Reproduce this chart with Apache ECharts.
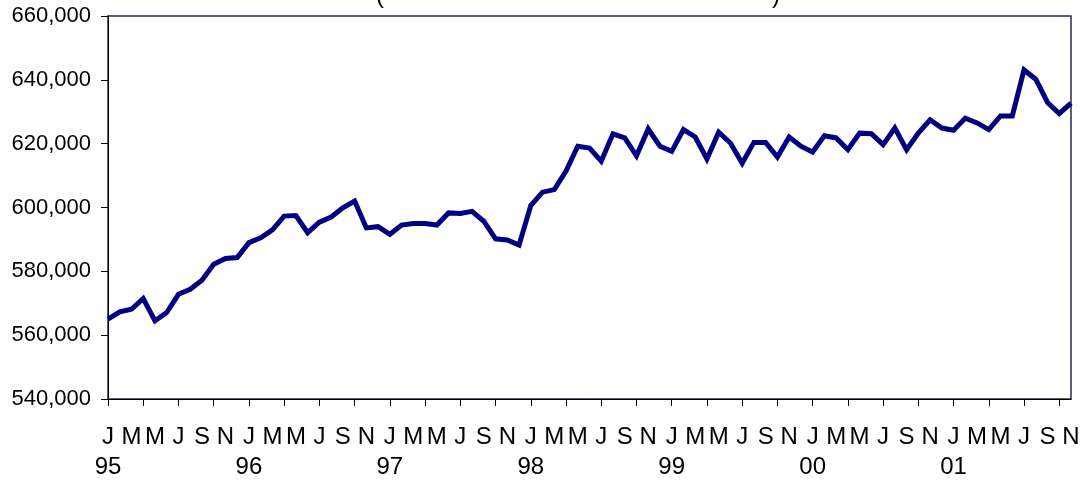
<!DOCTYPE html>
<html>
<head>
<meta charset="utf-8">
<script src="https://cdn.jsdelivr.net/npm/echarts@6/dist/echarts.min.js"></script>
<style>html,body{margin:0;padding:0;background:#fff;}#c{width:1084px;height:482px;}</style>
</head>
<body>
<div id="c"></div>
<script>
var monthLetters = ['J','F','M','A','M','J','J','A','S','O','N','D'];
var years = ['95','96','97','98','99','00','01'];
var values1995 = [565000,567300,568100,571500,564500,567100,572800,574400,577200,582200,584000,584300];
var values1996 = [589000,590500,593000,597300,597500,592100,595400,597000,599900,602000,593600,594000];
var values1997 = [591600,594500,595000,595000,594500,598300,598100,598800,595700,590200,589800,588200];
var values1998 = [600600,604800,605600,611400,619200,618600,614500,623100,621800,616200,624600,619200];
var values1999 = [617600,624400,622100,615200,623600,620200,613900,620400,620400,615800,622100,619200];
var values2000 = [617400,622500,621800,618100,623300,623100,619700,624900,618100,623300,627500,624900];
var values2001 = [624200,628000,626500,624400,628700,628700,643100,640200,632900,629400,632700];
var yTicks = [540000,560000,580000,600000,620000,640000,660000];

var categories = [];
var yearOfIndex = [];
var allYears = [values1995,values1996,values1997,values1998,values1999,values2000,values2001];
var values = [];
allYears.forEach(function(arr, yi){
  arr.forEach(function(v, mi){
    categories.push(monthLetters[mi]);
    yearOfIndex.push(mi === 0 ? years[yi] : null);
    values.push(v);
  });
});

var chart = echarts.init(document.getElementById('c'));
chart.setOption({
  animation: false,
  backgroundColor: '#fff',
  grid: {left:108, right:13, top:16, bottom:82, show:true, borderColor:'#2a2a4a', borderWidth:1.5, backgroundColor:'transparent'},
  graphic: [
    {type:'text', left:376, top:-16, style:{text:'(', font:'24px "Liberation Sans", Arial, sans-serif', fill:'#000'}},
    {type:'text', left:772, top:-16, style:{text:')', font:'24px "Liberation Sans", Arial, sans-serif', fill:'#000'}}
  ],
  xAxis: {
    type:'category', data:categories, boundaryGap:false,
    axisLine:{lineStyle:{color:'#000', width:1}},
    axisTick:{interval:2, length:7, lineStyle:{color:'#000'}},
    axisLabel:{
      interval:1, margin:23, color:'#000', fontSize:24, lineHeight:30,
      fontFamily:'"Liberation Sans", Arial, sans-serif',
      formatter:function(val, idx){ return yearOfIndex[idx] ? val + '\n' + yearOfIndex[idx] : val; }
    },
    splitLine:{show:false}
  },
  yAxis: {
    type:'value', min:yTicks[0], max:yTicks[yTicks.length-1], interval:yTicks[1]-yTicks[0],
    axisLine:{show:true, lineStyle:{color:'#000', width:1}},
    axisTick:{show:true, length:7, lineStyle:{color:'#000'}},
    axisLabel:{margin:17, color:'#000', fontSize:22, fontFamily:'"Liberation Sans", Arial, sans-serif',
      formatter:function(v){ return v.toLocaleString('en-US'); }},
    splitLine:{show:false}
  },
  series: [{
    type:'line', data:values, symbol:'none',
    lineStyle:{color:'#000080', width:5, join:'miter'},
    clip:true
  }]
});
</script>
</body>
</html>
